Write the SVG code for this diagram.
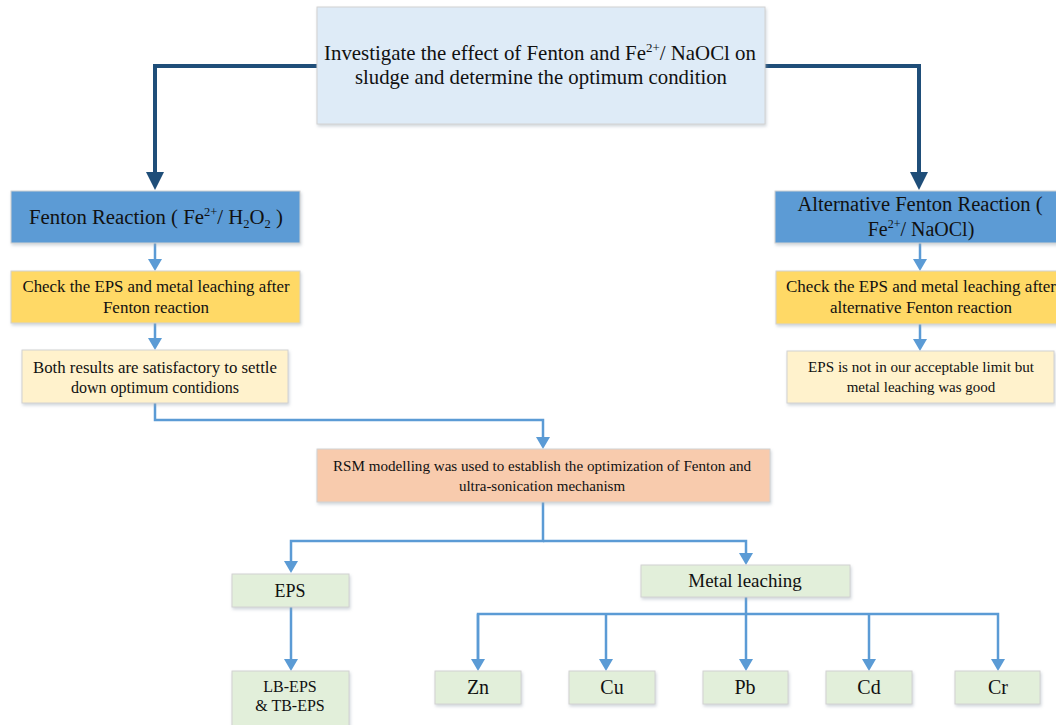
<svg xmlns="http://www.w3.org/2000/svg" width="1056" height="725" viewBox="0 0 1056 725">
<style>
.t{font-family:'Liberation Serif','Times New Roman',Times,serif;fill:#111;text-anchor:middle}
.box{stroke:#d2d2d2;stroke-width:1;filter:url(#sh)}
.dk{fill:none;stroke:#1f4e79;stroke-width:4}
.lt{fill:none;stroke:#5b9bd5;stroke-width:2.5}
</style>
<defs>
<filter id="sh" x="-5%" y="-10%" width="115%" height="130%">
<feDropShadow dx="1" dy="2" stdDeviation="1.5" flood-color="#9aa6b2" flood-opacity="0.45"/>
</filter>
<marker id="ad" viewBox="0 0 18 18" refX="0" refY="9" markerWidth="18" markerHeight="18" markerUnits="userSpaceOnUse" orient="auto">
<path d="M0,0 L18,9 L0,18 z" fill="#1f4e79"/>
</marker>
<marker id="al" viewBox="0 0 12 14" refX="0" refY="7" markerWidth="12" markerHeight="14" markerUnits="userSpaceOnUse" orient="auto">
<path d="M0,0 L12,7 L0,14 z" fill="#5b9bd5"/>
</marker>
</defs>
<rect width="1056" height="725" fill="#ffffff"/>

<g id="connectors">
<path class="dk" d="M317,66 H155 V172" marker-end="url(#ad)"/>
<path class="dk" d="M765,66 H919 V172" marker-end="url(#ad)"/>
<path class="lt" d="M155,243 V259" marker-end="url(#al)"/>
<path class="lt" d="M155,323 V338" marker-end="url(#al)"/>
<path class="lt" d="M920,243 V259" marker-end="url(#al)"/>
<path class="lt" d="M920,324 V339" marker-end="url(#al)"/>
<path class="lt" d="M155,403 V420 H543 V437" marker-end="url(#al)"/>
<path class="lt" d="M543,502 V541 H291 V561" marker-end="url(#al)"/>
<path class="lt" d="M543,541 H746 V553" marker-end="url(#al)"/>
<path class="lt" d="M291,607 V659" marker-end="url(#al)"/>
<path class="lt" d="M746,597 V659" marker-end="url(#al)"/>
<path class="lt" d="M478,659 V614 H998 V659" marker-end="url(#al)"/>
<path class="lt" d="M478,614 V659" marker-end="url(#al)"/>
<path class="lt" d="M606,614 V659" marker-end="url(#al)"/>
<path class="lt" d="M869,614 V659" marker-end="url(#al)"/>
</g>

<g font-family="'Liberation Serif', 'Times New Roman', serif">
<g id="top">
<rect class="box" x="317" y="7" width="448" height="117" fill="#deebf7"/>
<text class="t" font-size="21" x="540" y="60" textLength="432" lengthAdjust="spacingAndGlyphs">Investigate the effect of Fenton and Fe<tspan font-size="13" dy="-8">2+</tspan><tspan dy="8">/ NaOCl on</tspan></text>
<text class="t" font-size="21" x="541" y="84" textLength="372" lengthAdjust="spacingAndGlyphs">sludge and determine the optimum condition</text>
</g>

<g id="fenton">
<rect class="box" x="11" y="191" width="289" height="52" fill="#5b9bd5"/>
<text class="t" font-size="20" x="156" y="224" textLength="254" lengthAdjust="spacingAndGlyphs">Fenton Reaction ( Fe<tspan font-size="12" dy="-8">2+</tspan><tspan dy="8">/ H</tspan><tspan font-size="12" dy="4">2</tspan><tspan dy="-4">O</tspan><tspan font-size="12" dy="4">2</tspan><tspan dy="-4"> )</tspan></text>
</g>

<g id="alt-fenton">
<rect class="box" x="775" y="191" width="290" height="52" fill="#5b9bd5"/>
<text class="t" font-size="20" x="920" y="211" textLength="245" lengthAdjust="spacingAndGlyphs">Alternative Fenton Reaction (</text>
<text class="t" font-size="20" x="921" y="236">Fe<tspan font-size="12" dy="-8">2+</tspan><tspan dy="8">/ NaOCl)</tspan></text>
</g>

<g id="check-fenton">
<rect class="box" x="11" y="271" width="289" height="52" fill="#ffd966"/>
<text class="t" font-size="17" x="156" y="292" textLength="267" lengthAdjust="spacingAndGlyphs">Check the EPS and metal leaching after</text>
<text class="t" font-size="17" x="156" y="313">Fenton reaction</text>
</g>

<g id="check-alt">
<rect class="box" x="776" y="271" width="290" height="53" fill="#ffd966"/>
<text class="t" font-size="17" x="921" y="292" textLength="270" lengthAdjust="spacingAndGlyphs">Check the EPS and metal leaching after</text>
<text class="t" font-size="17" x="921" y="313">alternative Fenton reaction</text>
</g>

<g id="both-results">
<rect class="box" x="22" y="350" width="266" height="53" fill="#fff2cc"/>
<text class="t" font-size="16" x="155" y="373" textLength="244" lengthAdjust="spacingAndGlyphs">Both results are satisfactory to settle</text>
<text class="t" font-size="16" x="155" y="393">down optimum contidions</text>
</g>

<g id="eps-not">
<rect class="box" x="787" y="351" width="267" height="52" fill="#fff2cc"/>
<text class="t" font-size="15" x="921" y="372" textLength="226" lengthAdjust="spacingAndGlyphs">EPS is not in our acceptable limit but</text>
<text class="t" font-size="15" x="921" y="392">metal leaching was good</text>
</g>

<g id="rsm">
<rect class="box" x="317" y="449" width="453" height="53" fill="#f8cbad"/>
<text class="t" font-size="15" x="542" y="471" textLength="418" lengthAdjust="spacingAndGlyphs">RSM modelling was used to establish the optimization of Fenton and</text>
<text class="t" font-size="15" x="542" y="491">ultra-sonication mechanism</text>
</g>

<g id="eps">
<rect class="box" x="232" y="574" width="117" height="33" fill="#e2efda"/>
<text class="t" font-size="18" x="290" y="597">EPS</text>
</g>

<g id="metal-leaching">
<rect class="box" x="641" y="565" width="209" height="32" fill="#e2efda"/>
<text class="t" font-size="19" x="745" y="587">Metal leaching</text>
</g>

<g id="lb-tb-eps">
<rect class="box" x="232" y="671" width="117" height="60" fill="#e2efda"/>
<text class="t" font-size="16" x="290" y="692">LB-EPS</text>
<text class="t" font-size="16" x="290" y="711">&amp; TB-EPS</text>
</g>

<g id="zn"><rect class="box" x="435" y="671" width="86" height="33" fill="#e2efda"/><text class="t" font-size="20" x="478" y="694">Zn</text></g>
<g id="cu"><rect class="box" x="569" y="671" width="86" height="33" fill="#e2efda"/><text class="t" font-size="20" x="612" y="694">Cu</text></g>
<g id="pb"><rect class="box" x="703" y="671" width="85" height="33" fill="#e2efda"/><text class="t" font-size="20" x="745" y="694">Pb</text></g>
<g id="cd"><rect class="box" x="826" y="671" width="86" height="33" fill="#e2efda"/><text class="t" font-size="20" x="869" y="694">Cd</text></g>
<g id="cr"><rect class="box" x="955" y="671" width="85" height="33" fill="#e2efda"/><text class="t" font-size="20" x="998" y="694">Cr</text></g>
</g>
</svg>
